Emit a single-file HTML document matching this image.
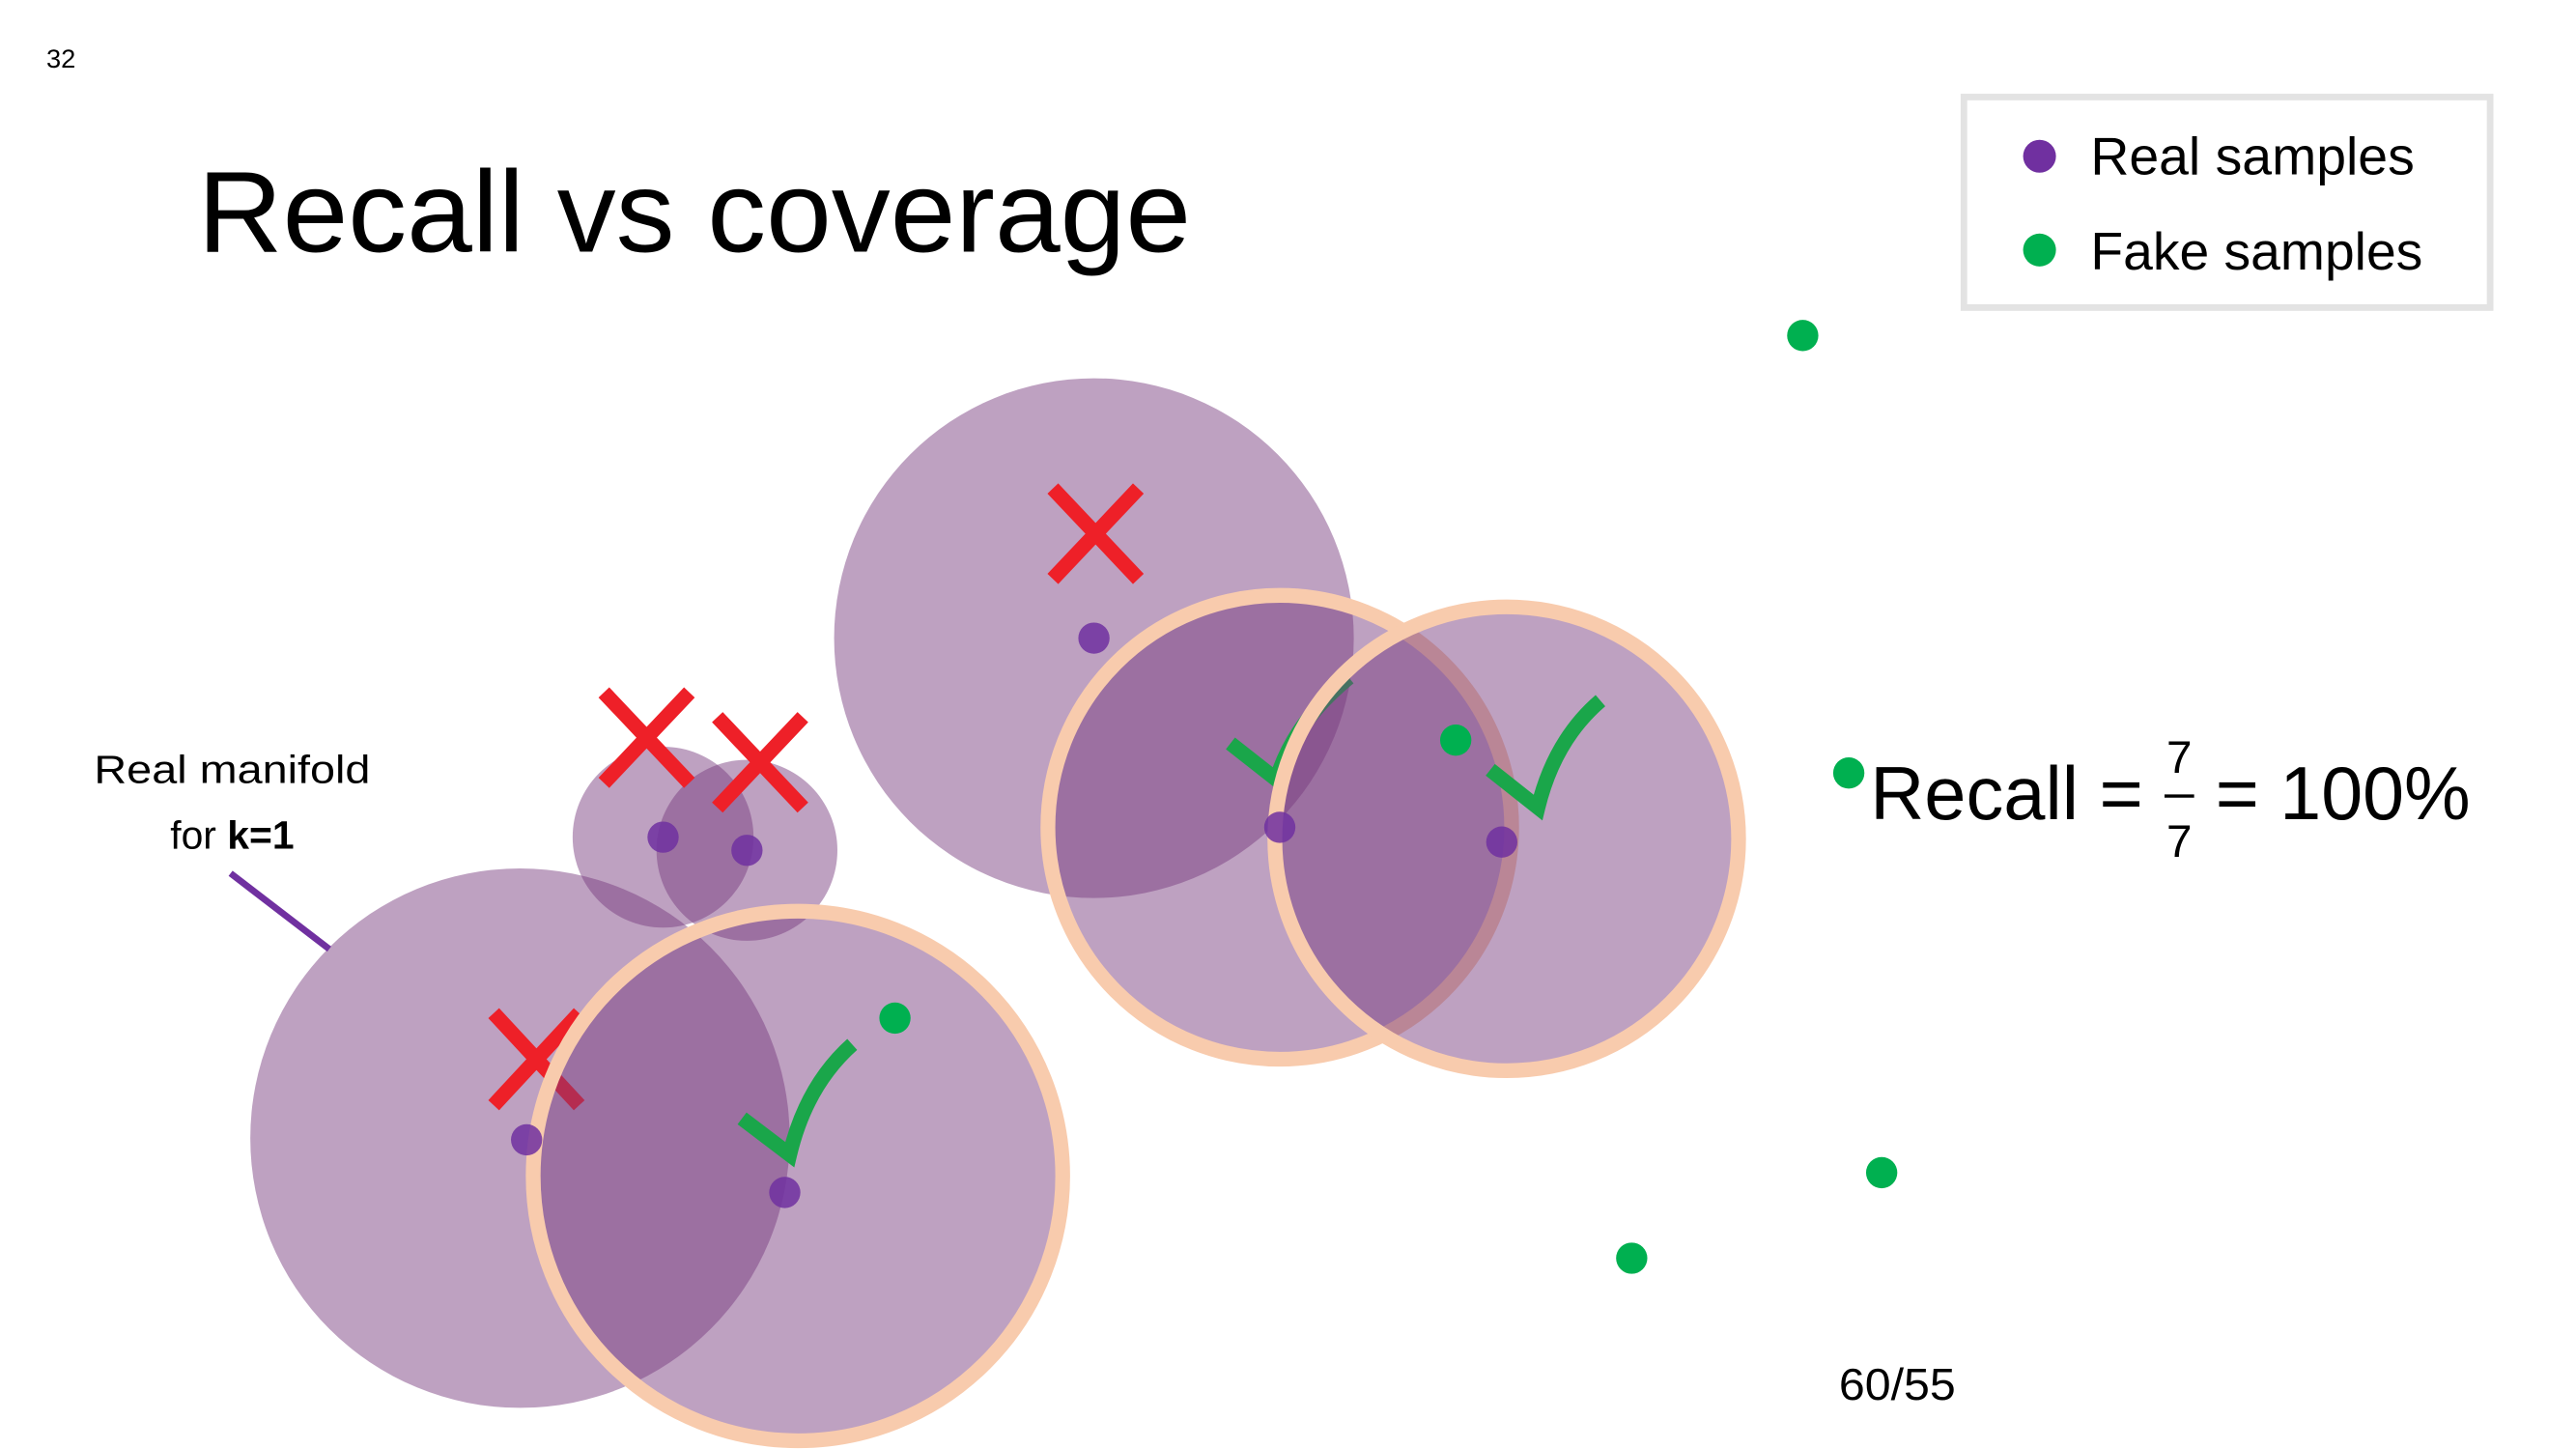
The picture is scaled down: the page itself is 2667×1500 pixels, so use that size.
<!DOCTYPE html>
<html><head><meta charset="utf-8"><style>
html,body{margin:0;padding:0;background:#fff}
svg{display:block}
text{font-family:"Liberation Sans",Arial,sans-serif}
</style></head><body>
<svg id="chart" width="2667" height="1500" viewBox="0 0 1566 881" xmlns="http://www.w3.org/2000/svg">
<text x="28" y="41" font-size="16">32</text>
<text x="120" y="153" font-size="70.5" textLength="604" lengthAdjust="spacingAndGlyphs">Recall vs coverage</text>
<g id="layer1"></g>
<g id="marks1">
<path d="M640,297 L692,352 M692,297 L640,352" stroke="#ee2028" stroke-width="9" fill="none"/>
<path d="M367,421 L419,476 M419,421 L367,476" stroke="#ee2028" stroke-width="9" fill="none"/>
<path d="M436,436 L488,491 M488,436 L436,491" stroke="#ee2028" stroke-width="9" fill="none"/>
<path d="M300,616 L352,672 M352,616 L300,672" stroke="#ee2028" stroke-width="9" fill="none"/>
<path d="M748,452 L776,474 Q786,440 820,412" stroke="#1aa64a" stroke-width="9" fill="none"/>
</g>
<g id="layer2"></g>
<g id="marks2">
<path d="M451,680 L480,702 Q490,660 518,635" stroke="#1aa64a" stroke-width="9" fill="none"/>
<path d="M906,468 L935,491 Q945,450 973,426" stroke="#1aa64a" stroke-width="9" fill="none"/>
</g>
<g id="points"></g>
<line x1="140" y1="531" x2="200" y2="577" stroke="#7030a0" stroke-width="4"/>
<text x="141" y="476" font-size="24" text-anchor="middle" textLength="168" lengthAdjust="spacingAndGlyphs">Real manifold</text>
<text x="141" y="516" font-size="24" text-anchor="middle">for <tspan font-weight="bold">k=1</tspan></text>
<rect x="1194" y="59" width="320" height="128" fill="#fff" stroke="#e3e3e3" stroke-width="4"/>
<circle cx="1240" cy="95" r="10" fill="#7030a0"/>
<text x="1271" y="106" font-size="32" textLength="197" lengthAdjust="spacingAndGlyphs">Real samples</text>
<circle cx="1240" cy="152" r="10" fill="#00b050"/>
<text x="1271" y="164" font-size="32" textLength="202" lengthAdjust="spacingAndGlyphs">Fake samples</text>
<text x="1137" y="498" font-size="46" textLength="166" lengthAdjust="spacingAndGlyphs">Recall =</text>
<text x="1325" y="470" font-size="28" text-anchor="middle">7</text>
<line x1="1316" y1="484" x2="1334" y2="484" stroke="#000" stroke-width="2"/>
<text x="1325" y="521" font-size="28" text-anchor="middle">7</text>
<text x="1347" y="498" font-size="46" textLength="155" lengthAdjust="spacingAndGlyphs">= 100%</text>
<text x="1118" y="851" font-size="27" textLength="71" lengthAdjust="spacingAndGlyphs">60/55</text>
</svg>
<script>
// circle data: [cx, cy, r]
const realCircles1 = [[316,692,164],[665,388,158],[403,509,55],[454,517,55],[778,503,145]];
const realCircles2 = [[485,715,165],[916,510,145]];
const ringIdx1 = [4];
const ringIdx2 = [0,1];
const realX = [665,403,454,320,477,778,913];
const realY = [388,509,517,693,725,503,512];
const fakeX = [1096,885,1124,544,1144,992];
const fakeY = [204,450,470,619,713,765];
const NS='http://www.w3.org/2000/svg';
function drawLayer(id, circles){
  const g=document.getElementById(id);
  circles.forEach((c,i)=>{
    const el=document.createElementNS(NS,'circle');
    el.setAttribute('cx',c[0]);el.setAttribute('cy',c[1]);el.setAttribute('r',c[2]);
    el.setAttribute('fill','rgb(119,58,125)');el.setAttribute('fill-opacity','0.48');
    
    
    g.appendChild(el);
  });
  return g;
}
function drawRings(id, circles, idx){
  const g=document.getElementById(id);
  idx.forEach(i=>{
    const c=circles[i];
    const el=document.createElementNS(NS,'circle');
    el.setAttribute('cx',c[0]);el.setAttribute('cy',c[1]);el.setAttribute('r',c[2]-4);
    el.setAttribute('fill','none');el.setAttribute('stroke','#f8cbad');el.setAttribute('stroke-width','9');
    
    
    g.appendChild(el);
  });
}
drawLayer('layer1', realCircles1);
drawRings('marks1', realCircles1, ringIdx1);
drawLayer('layer2', realCircles2);
drawRings('marks2', realCircles2, ringIdx2);
const pg=document.getElementById('points');
realX.forEach((x,i)=>{
  const el=document.createElementNS(NS,'circle');
  el.setAttribute('cx',x);el.setAttribute('cy',realY[i]);el.setAttribute('r',9.5);el.setAttribute('fill','#7030a0');el.setAttribute('fill-opacity','0.85');
  
  
  pg.appendChild(el);
});
fakeX.forEach((x,i)=>{
  const el=document.createElementNS(NS,'circle');
  el.setAttribute('cx',x);el.setAttribute('cy',fakeY[i]);el.setAttribute('r',9.5);el.setAttribute('fill','#00b050');
  
  
  pg.appendChild(el);
});
</script>
</body></html>
